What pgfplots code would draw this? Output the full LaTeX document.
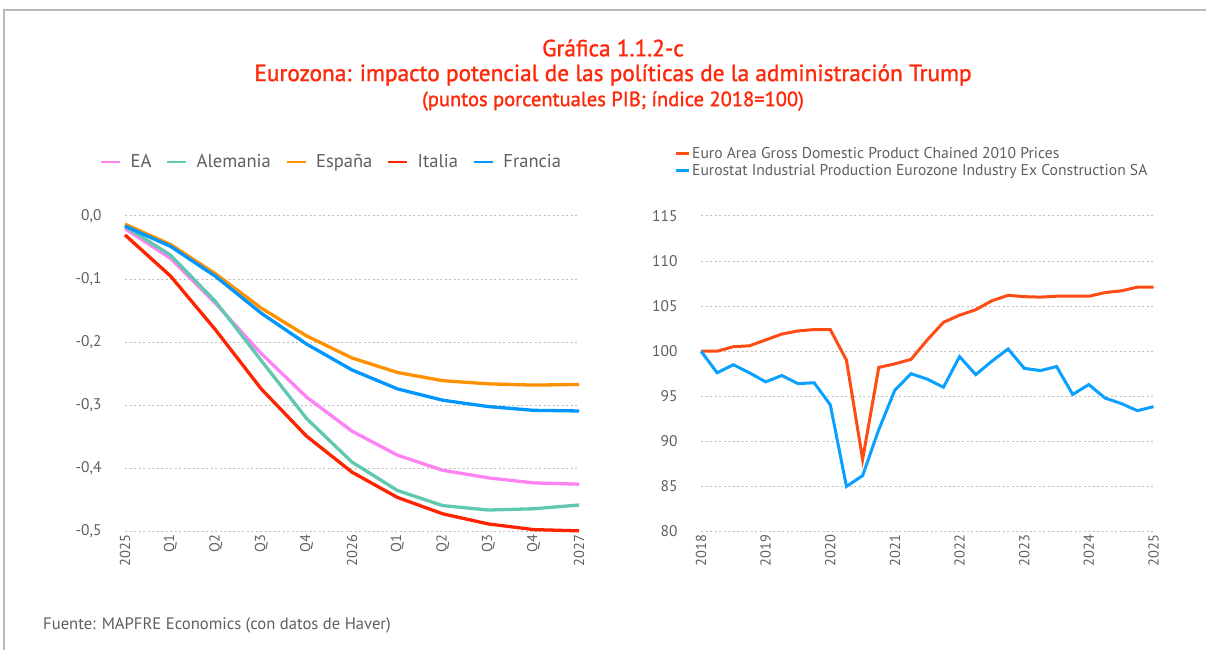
\documentclass[border=0pt]{standalone}
\usepackage{pgfplots}
\pgfplotsset{compat=1.18}
\usepackage{pgfplotstable}
\usepackage{fontspec}
\setmainfont{PT Sans}
\newfontfamily\titlefont[FakeBold=1.3]{PT Sans}
\definecolor{titlered}{RGB}{255,40,10}
\definecolor{txtgray}{RGB}{95,95,95}
\definecolor{gridgray}{RGB}{190,190,190}
\definecolor{cEA}{RGB}{255,130,245}
\definecolor{cDE}{RGB}{95,200,175}
\definecolor{cES}{RGB}{255,145,0}
\definecolor{cIT}{RGB}{255,35,0}
\definecolor{cFR}{RGB}{0,150,255}
\definecolor{cGDP}{RGB}{255,75,20}
\definecolor{cIP}{RGB}{10,160,255}

\pgfplotstableread{
x EA DE ES IT FR
0 -0.020 -0.016 -0.013 -0.030 -0.016
1 -0.067 -0.062 -0.045 -0.095 -0.048
2 -0.139 -0.136 -0.092 -0.181 -0.096
3 -0.218 -0.229 -0.146 -0.274 -0.154
4 -0.287 -0.321 -0.190 -0.349 -0.203
5 -0.341 -0.390 -0.225 -0.406 -0.244
6 -0.379 -0.435 -0.248 -0.446 -0.274
7 -0.403 -0.459 -0.261 -0.472 -0.292
8 -0.415 -0.466 -0.266 -0.488 -0.302
9 -0.423 -0.464 -0.268 -0.497 -0.308
10 -0.425 -0.458 -0.267 -0.499 -0.309
}\lefttab

\pgfplotstableread{
q GDP IP
0 100.0 100.0
1 100.0 97.6
2 100.5 98.5
3 100.6 97.6
4 101.25 96.6
5 101.9 97.3
6 102.25 96.4
7 102.4 96.5
8 102.4 94.05
9 99.0 85.0
10 88.0 86.2
11 98.2 91.3
12 98.6 95.7
13 99.1 97.5
14 101.25 96.9
15 103.2 96.0
16 104.0 99.4
17 104.6 97.4
18 105.6 98.9
19 106.2 100.25
20 106.05 98.1
21 106.0 97.85
22 106.1 98.3
23 106.1 95.2
24 106.1 96.3
25 106.5 94.8
26 106.7 94.2
27 107.1 93.4
28 107.1 93.85
}\righttab

\pgfplotsset{
  common/.style={
    scale only axis,
    clip=false,
    axis line style={draw=none},
    major tick length=0pt,
    ymajorgrids,
    grid style={gridgray, line width=1bp, dash pattern=on 2bp off 2.5bp},
    /pgf/number format/assume math mode=true,
    yticklabel style={font=\fontsize{15.5}{18}\selectfont, text=txtgray, xshift=-20bp},
    xticklabel style={font=\fontsize{14.5}{17}\selectfont, text=txtgray, rotate=90, anchor=east},
    legend cell align=left,
    legend image code/.code={\draw[##1, line width=2.8bp] (0bp,0bp) -- (19bp,0bp);},
  },
  shortleg/.style={
    legend image code/.code={\draw[##1, line width=2.8bp] (0bp,0bp) -- (13bp,0bp);},
  }
}

\begin{document}
\begin{tikzpicture}[x=1bp,y=1bp]
\path[use as bounding box] (0,0) rectangle (1206,650);
\draw[gray!55, line width=2bp] (4,0) -- (4,640) -- (1206,640);

\node[text=titlered, font=\titlefont\fontsize{23.4}{28}\selectfont] at (613,602) {Gráfica 1.1.2-c};
\node[text=titlered, font=\titlefont\fontsize{23.4}{28}\selectfont] at (613,575) {Eurozona: impacto potencial de las políticas de la administración Trump};
\node[text=titlered, font=\titlefont\fontsize{20.6}{24}\selectfont] at (613,549) {(puntos porcentuales PIB; índice 2018=100)};
\node[anchor=west, text=txtgray, font=\fontsize{16.7}{20}\selectfont, inner sep=0pt] at (43,25) {Fuente: MAPFRE Economics (con datos de Haver)};

\begin{axis}[common,
  at={(125bp,118.5bp)}, anchor=south west,
  width=454bp, height=315.5bp,
  xmin=0, xmax=10, ymin=-0.5, ymax=0,
  xtick={0,...,10},
  xticklabels={2025,Q1,Q2,Q3,Q4,2026,Q1,Q2,Q3,Q4,2027},
  ytick={-0.5,-0.4,-0.3,-0.2,-0.1,0},
  yticklabels={{-0,5},{-0,4},{-0,3},{-0,2},{-0,1},{0,0}},
  legend columns=5,
  legend style={at={(0.4548,1.171)}, anchor=center, draw=none, fill=none,
    font=\fontsize{18.6}{22}\selectfont, text=txtgray,
    /tikz/every odd column/.append style={column sep=7bp},
    /tikz/every even column/.append style={column sep=12.5bp}},
  every axis plot/.append style={line width=3.3bp},
]
\addplot[cEA] table[x=x,y=EA]{\lefttab};
\addlegendentry{EA}
\addplot[cDE] table[x=x,y=DE]{\lefttab};
\addlegendentry{Alemania}
\addplot[cES] table[x=x,y=ES]{\lefttab};
\addlegendentry{España}
\addplot[cIT] table[x=x,y=IT]{\lefttab};
\addlegendentry{Italia}
\addplot[cFR] table[x=x,y=FR]{\lefttab};
\addlegendentry{Francia}
\end{axis}

\begin{axis}[common, shortleg,
  at={(701bp,118.5bp)}, anchor=south west,
  width=452.5bp, height=315.5bp,
  xmin=0, xmax=28, ymin=80, ymax=115,
  xtick={0,4,...,28},
  xticklabels={2018,2019,2020,2021,2022,2023,2024,2025},
  ytick={80,85,...,115},
  legend columns=1,
  legend style={at={(-0.066,1.171)}, anchor=west, draw=none, fill=none,
    font=\fontsize{15.7}{18}\selectfont, text=txtgray, row sep=0.5bp},
  every axis plot/.append style={line width=3bp},
]
\addplot[cGDP] table[x=q,y=GDP]{\righttab};
\addlegendentry{Euro Area Gross Domestic Product Chained 2010 Prices}
\addplot[cIP] table[x=q,y=IP]{\righttab};
\addlegendentry{Eurostat Industrial Production Eurozone Industry Ex Construction SA}
\end{axis}
\end{tikzpicture}
\end{document}
